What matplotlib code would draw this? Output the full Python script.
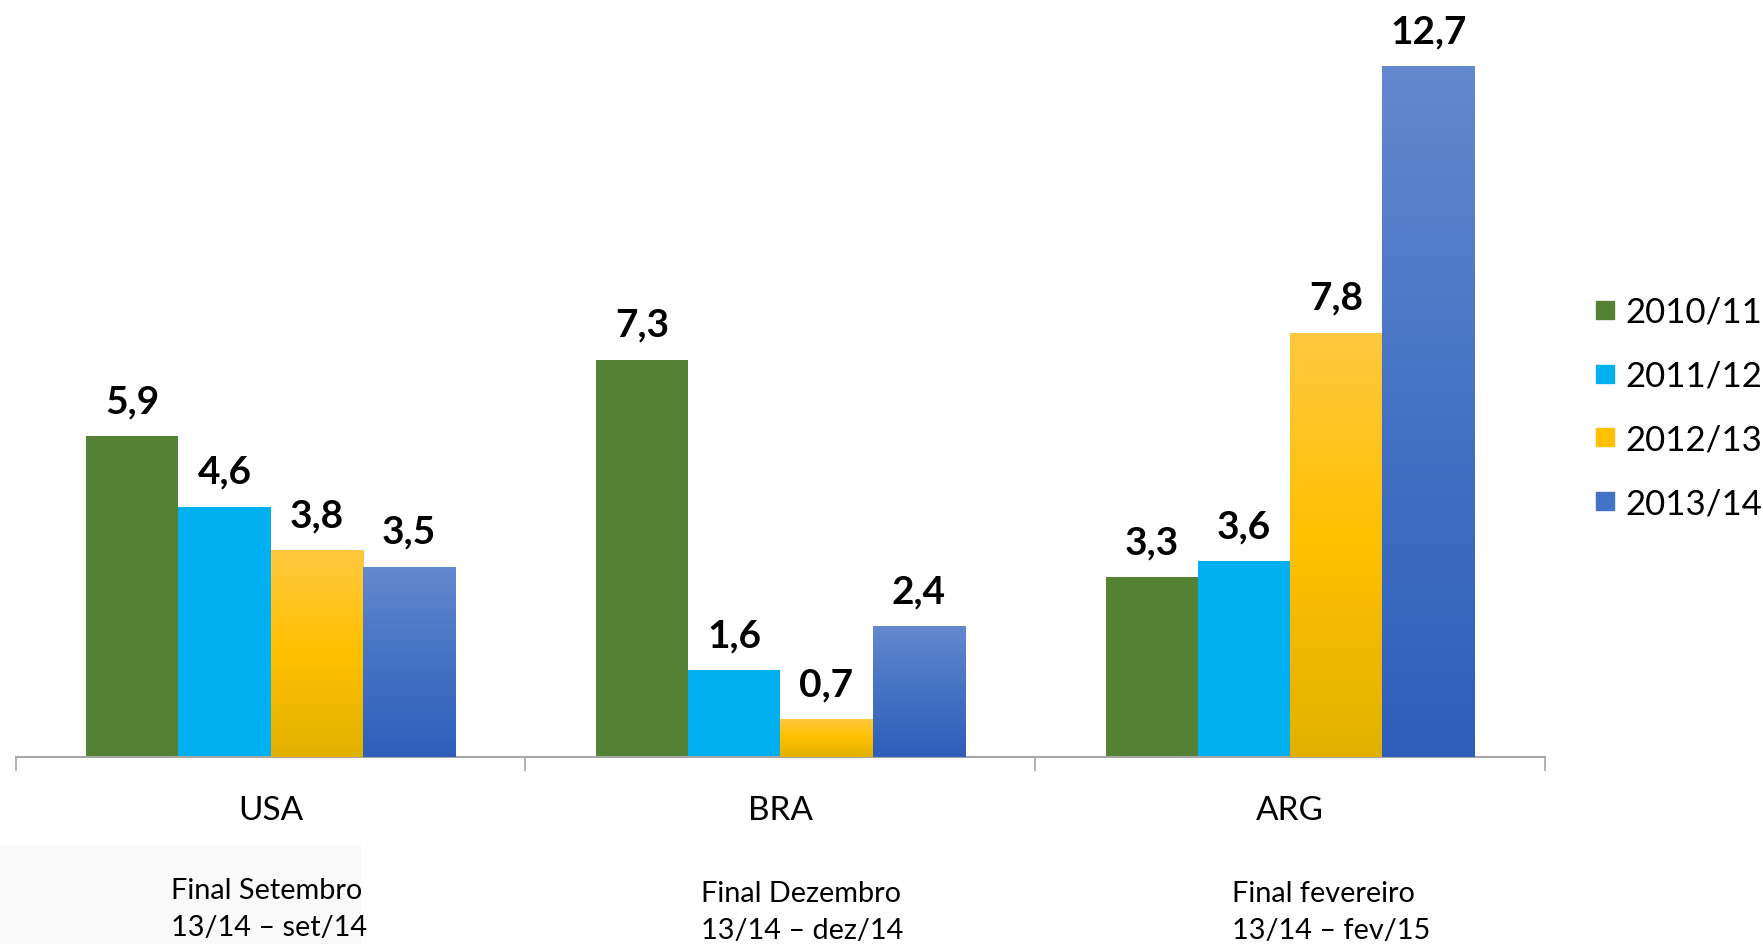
import numpy as np
import matplotlib.pyplot as plt
from matplotlib.patches import Rectangle
from matplotlib.colors import LinearSegmentedColormap

plt.rcParams['font.family'] = ['Lato', 'DejaVu Sans']

countries = ['USA', 'BRA', 'ARG']
seasons = ['2010/11', '2011/12', '2012/13', '2013/14']
v_2010 = [5.9, 7.3, 3.3]
v_2011 = [4.6, 1.6, 3.6]
v_2012 = [3.8, 0.7, 7.8]
v_2013 = [3.5, 2.4, 12.7]
notes = ['Final Setembro\n13/14 – set/14',
         'Final Dezembro\n13/14 – dez/14',
         'Final fevereiro\n13/14 – fev/15']

series = [v_2010, v_2011, v_2012, v_2013]
# solid colour or (top, mid, bottom) gradient
fills = ['#548235', '#00B0F0',
         ('#FFC83F', '#FFC000', '#E1B100'),
         ('#6488CE', '#4472C4', '#2E5EB9')]

W, H = 1763, 944
fig = plt.figure(figsize=(W / 100, H / 100), dpi=100)
fig.patches.append(Rectangle((0, 0), 360 / W, 99 / H, transform=fig.transFigure,
                             color='#f9f9f9', zorder=0))

ax_l, ax_r, base = 15.7, 1545, 757
ax = fig.add_axes([ax_l / W, (H - base) / H, (ax_r - ax_l) / W, base / H])
ax.patch.set_alpha(0)
ax.set_xlim(-0.5, 2.5)
ax.set_ylim(0, base / 54.4)

bw = 0.181
x = np.arange(len(countries))
for i, vals in enumerate(series):
    pos = x + (i - 1.5) * bw
    f = fills[i]
    col = f if isinstance(f, str) else f[1]
    bars = ax.bar(pos, vals, bw, color=col, zorder=2)
    if not isinstance(f, str):
        cmap = LinearSegmentedColormap.from_list('g', [f[2], f[1], f[0]])
        for b in bars:
            grad = np.linspace(0, 1, 256).reshape(-1, 1)
            im = ax.imshow(grad, cmap=cmap, origin='lower', aspect='auto',
                           extent=[b.get_x(), b.get_x() + b.get_width(), 0, b.get_height()],
                           zorder=3)
            im.set_clip_path(b)
    for p, v in zip(pos, vals):
        ax.annotate(f'{v:.1f}'.replace('.', ','), (p, v), xytext=(0, 16.5),
                    textcoords='offset points', ha='center', va='baseline',
                    fontsize=28, fontweight='bold', zorder=4)

ax.set_xlim(-0.5, 2.5)
ax.set_ylim(0, base / 54.4)

for s in ['top', 'right', 'left']:
    ax.spines[s].set_visible(False)
ax.spines['bottom'].set_color('#A6A6A6')
ax.spines['bottom'].set_linewidth(1.5)
ax.set_yticks([])
ax.set_xticks([])
ax.set_xticks([-0.5, 0.5, 1.5, 2.5], minor=True)
ax.tick_params(axis='x', which='minor', length=10, width=1.2, color='#A6A6A6')

for xi, name in zip(x, countries):
    ax.annotate(name, (xi, 0), xytext=(0, -(820 - base) * 0.72), textcoords='offset points',
                ha='center', va='baseline', fontsize=24)

for xl, yb, txt in zip([171, 701, 1232], [899, 902, 902], notes):
    l1, l2 = txt.split('\n')
    fig.text(xl / W, (H - yb) / H, l1, fontsize=20.8, va='baseline', ha='left')
    fig.text(xl / W, (H - yb - 37) / H, l2, fontsize=20.8, va='baseline', ha='left')

# legend
for i, name in enumerate(seasons):
    yc = 310 + i * 63.7
    f = fills[i]
    col = f if isinstance(f, str) else f[1]
    fig.patches.append(Rectangle((1596 / W, (H - yc - 9) / H), 18 / W, 18 / H,
                                 transform=fig.transFigure, color=col))
    fig.text(1625 / W, (H - yc) / H, name, fontsize=25, va='center_baseline', ha='left')

fig.savefig('out.png', dpi=100)
